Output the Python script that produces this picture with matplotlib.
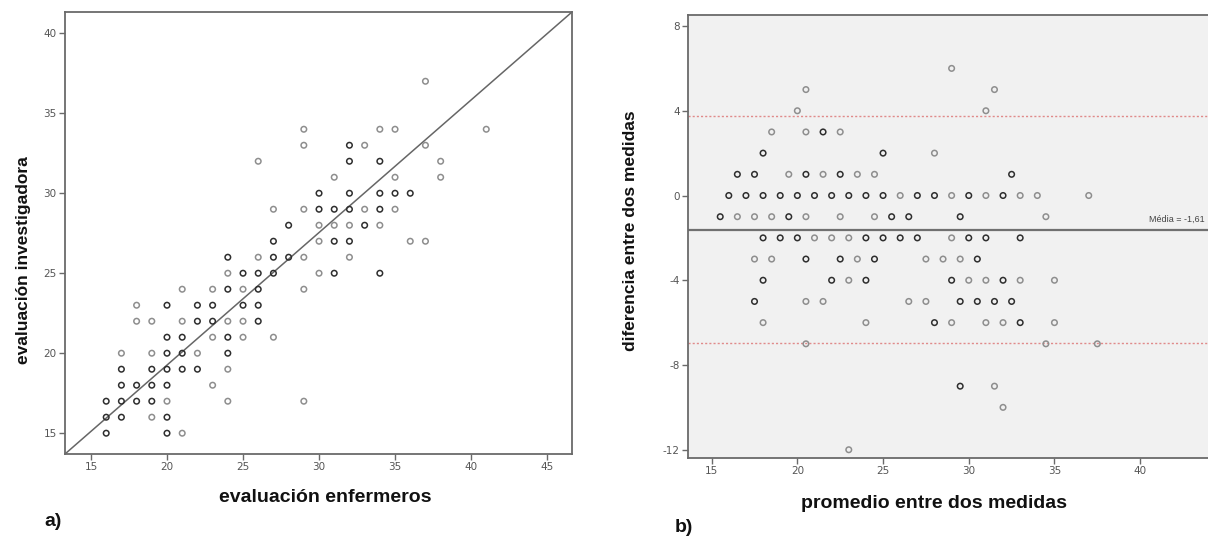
import matplotlib
matplotlib.use("Agg")
import matplotlib.pyplot as plt
import numpy as np

plt.rcParams["axes.unicode_minus"] = False

# ---------------- data: panel a (scatter) ----------------
a_x = [37,
       29, 34, 35, 41,
       29, 32, 33, 37,
       26, 32, 34, 38,
       31, 35, 38,
       30, 32, 34, 35, 36,
       27, 29, 30, 31, 32, 33, 34, 35,
       28, 30, 31, 32, 33, 34,
       27, 30, 31, 32, 36, 37,
       24, 26, 27, 28, 29, 32,
       24, 25, 26, 27, 30, 31, 34,
       21, 23, 24, 25, 26, 29,
       18, 20, 22, 23, 25, 26,
       18, 19, 21, 22, 23, 24, 25, 26,
       20, 21, 23, 24, 25, 27,
       17, 19, 20, 21, 22, 24,
       17, 19, 20, 21, 22, 24,
       17, 18, 19, 20, 23,
       16, 17, 18, 19, 20, 24, 29,
       16, 17, 19, 20,
       16, 20, 21]
a_y = [37,
       34, 34, 34, 34,
       33, 33, 33, 33,
       32, 32, 32, 32,
       31, 31, 31,
       30, 30, 30, 30, 30,
       29, 29, 29, 29, 29, 29, 29, 29,
       28, 28, 28, 28, 28, 28,
       27, 27, 27, 27, 27, 27,
       26, 26, 26, 26, 26, 26,
       25, 25, 25, 25, 25, 25, 25,
       24, 24, 24, 24, 24, 24,
       23, 23, 23, 23, 23, 23,
       22, 22, 22, 22, 22, 22, 22, 22,
       21, 21, 21, 21, 21, 21,
       20, 20, 20, 20, 20, 20,
       19, 19, 19, 19, 19, 19,
       18, 18, 18, 18, 18,
       17, 17, 17, 17, 17, 17, 17,
       16, 16, 16, 16,
       15, 15, 15]
a_dark = [0,
          0, 0, 0, 0,
          0, 1, 0, 0,
          0, 1, 1, 0,
          0, 0, 0,
          1, 1, 1, 1, 1,
          0, 0, 1, 1, 1, 0, 1, 0,
          1, 0, 0, 0, 1, 0,
          1, 0, 1, 1, 0, 0,
          1, 0, 1, 1, 0, 0,
          0, 1, 1, 1, 0, 1, 1,
          0, 0, 1, 0, 1, 0,
          0, 1, 1, 1, 1, 1,
          0, 0, 0, 1, 1, 0, 0, 1,
          1, 1, 0, 1, 0, 0,
          0, 0, 1, 1, 0, 1,
          1, 1, 1, 1, 1, 0,
          1, 1, 1, 1, 0,
          1, 1, 1, 1, 0, 0, 0,
          1, 1, 0, 1,
          1, 1, 0]
a_xticks = [15, 20, 25, 30, 35, 40, 45]
a_yticks = [15, 20, 25, 30, 35, 40]

# ---------------- data: panel b (Bland-Altman) ----------------
b_rows = {
    6: ([29], [0]),
    5: ([20.5, 31.5], [0, 0]),
    4: ([20, 31], [0, 0]),
    3: ([18.5, 20.5, 21.5, 22.5], [0, 0, 1, 0]),
    2: ([18, 25, 28], [1, 1, 0]),
    1: ([16.5, 17.5, 19.5, 20.5, 21.5, 22.5, 23.5, 24.5, 32.5], [1, 1, 0, 1, 0, 1, 0, 0, 1]),
    0: ([16, 17, 18, 19, 20, 21, 22, 23, 24, 25, 26, 27, 28, 29, 30, 31, 32, 33, 34, 37],
        [1, 1, 1, 1, 1, 1, 1, 1, 1, 1, 0, 1, 1, 0, 1, 0, 1, 0, 0, 0]),
    -1: ([15.5, 16.5, 17.5, 18.5, 19.5, 20.5, 22.5, 24.5, 25.5, 26.5, 29.5, 34.5],
         [1, 0, 0, 0, 1, 0, 0, 0, 1, 1, 1, 0]),
    -2: ([18, 19, 20, 21, 22, 23, 24, 25, 26, 27, 29, 30, 31, 33],
         [1, 1, 1, 0, 0, 0, 1, 1, 1, 1, 0, 1, 1, 1]),
    -3: ([17.5, 18.5, 20.5, 22.5, 23.5, 24.5, 27.5, 28.5, 29.5, 30.5],
         [0, 0, 1, 1, 0, 1, 0, 0, 0, 1]),
    -4: ([18, 22, 23, 24, 29, 30, 31, 32, 33, 35], [1, 1, 0, 1, 1, 0, 0, 1, 0, 0]),
    -5: ([17.5, 20.5, 21.5, 26.5, 27.5, 29.5, 30.5, 31.5, 32.5], [1, 0, 0, 0, 0, 1, 1, 1, 1]),
    -6: ([18, 24, 28, 29, 31, 32, 33, 35], [0, 0, 1, 0, 0, 0, 1, 0]),
    -7: ([20.5, 34.5, 37.5], [0, 0, 0]),
    -9: ([29.5, 31.5], [1, 0]),
    -10: ([32], [0]),
    -12: ([23], [0]),
}
b_x = [x for d, (xs, ks) in b_rows.items() for x in xs]
b_d = [d for d, (xs, ks) in b_rows.items() for x in xs]
b_dark = [k for d, (xs, ks) in b_rows.items() for k in ks]
b_mean = -1.61
b_upper = 3.76
b_lower = -6.98
b_mean_label = "Média = -1,61"
b_xticks = [15, 20, 25, 30, 35, 40]
b_yticks = [8, 4, 0, -4, -8, -12]

W, H = 1208, 538
fig = plt.figure(figsize=(W / 100, H / 100), dpi=100)

LIGHT = "#8e8e8e"
DARK = "#2e2e2e"
SPINE = "#6a6a6a"


def px_axes(l, t, r, b):
    return fig.add_axes([l / W, 1 - b / H, (r - l) / W, (b - t) / H])


def style(ax):
    for s in ax.spines.values():
        s.set_color(SPINE)
        s.set_linewidth(1.3)
    ax.tick_params(direction="out", length=4, width=1, color=SPINE,
                   labelcolor="#555555", labelsize=7.5, pad=2)


# ---- panel a ----
axa = px_axes(65, 12, 572, 454)
axa.set_facecolor("white")
cols = [DARK if k else LIGHT for k in a_dark]
axa.scatter(a_x, a_y, s=16, facecolors="none", edgecolors=cols, linewidths=1.1, zorder=3)
axa.plot([0, 1], [0, 1], transform=axa.transAxes, color="#666666", lw=1.1, zorder=2)
axa.set_xlim(13.29, 46.64)
axa.set_ylim(13.7, 41.33)
axa.set_xticks(a_xticks)
axa.set_yticks(a_yticks)
style(axa)

# ---- panel b ----
axb = px_axes(688, 15, 1243, 458)
axb.set_facecolor("#f1f1f1")
cols = [DARK if k else LIGHT for k in b_dark]
axb.scatter(b_x, b_d, s=16, facecolors="none", edgecolors=cols, linewidths=1.1, zorder=3)
axb.axhline(b_mean, color="#707070", lw=1.6, zorder=2)
axb.axhline(b_upper, color="#e08a8a", lw=1.0, ls=(0, (1.5, 1.5)), zorder=2)
axb.axhline(b_lower, color="#e08a8a", lw=1.0, ls=(0, (1.5, 1.5)), zorder=2)
axb.set_xlim(13.62, 46.0)
axb.set_ylim(-12.39, 8.52)
axb.set_xticks(b_xticks)
axb.set_yticks(b_yticks)
style(axb)
fig.text(1205 / W, 1 - 219 / H, b_mean_label, fontsize=6.5, color="#444444",
         va="center", ha="right", family="Liberation Sans")

# ---- labels ----
lab = dict(family="Liberation Sans", fontweight="bold", color="#111111")
fig.text(24 / W, 1 - 260 / H, "evaluación investigadora", rotation=90,
         ha="center", va="center", fontsize=12.5, **lab)
fig.text(325 / W, 1 - 498 / H, "evaluación enfermeros",
         ha="center", va="center", fontsize=14, **lab)
fig.text(53 / W, 1 - 522 / H, "a)", ha="center", va="center", fontsize=14, **lab)
fig.text(630 / W, 1 - 231 / H, "diferencia entre dos medidas", rotation=90,
         ha="center", va="center", fontsize=12.5, **lab)
fig.text(934 / W, 1 - 503 / H, "promedio entre dos medidas",
         ha="center", va="center", fontsize=14, **lab)
fig.text(684 / W, 1 - 528 / H, "b)", ha="center", va="center", fontsize=14, **lab)

fig.savefig("out.png", dpi=100)
